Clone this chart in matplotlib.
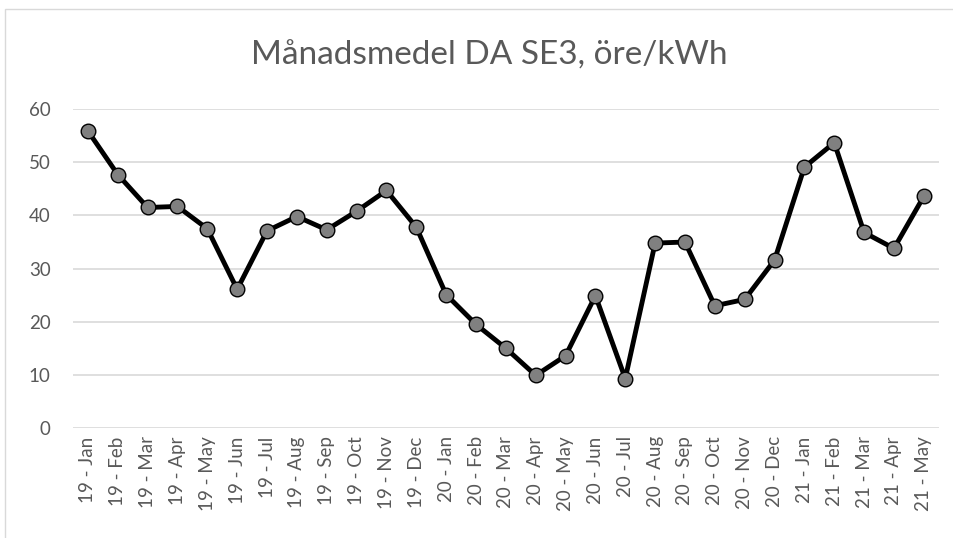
import matplotlib.pyplot as plt
from matplotlib.patches import Rectangle

months = ["19 - Jan", "19 - Feb", "19 - Mar", "19 - Apr", "19 - May", "19 - Jun",
          "19 - Jul", "19 - Aug", "19 - Sep", "19 - Oct", "19 - Nov", "19 - Dec",
          "20 - Jan", "20 - Feb", "20 - Mar", "20 - Apr", "20 - May", "20 - Jun",
          "20 - Jul", "20 - Aug", "20 - Sep", "20 - Oct", "20 - Nov", "20 - Dec",
          "21 - Jan", "21 - Feb", "21 - Mar", "21 - Apr", "21 - May"]
prices = [55.9, 47.7, 41.5, 41.7, 37.5, 26.1,
          37.1, 39.8, 37.3, 40.8, 44.7, 37.8,
          25.1, 19.5, 15.0, 9.9, 13.6, 24.9,
          9.3, 34.8, 35.0, 23.0, 24.2, 31.6,
          49.1, 53.7, 36.8, 33.8, 43.6]
yticks = [0, 10, 20, 30, 40, 50, 60]

plt.rcParams["font.family"] = ["Lato", "DejaVu Sans"]
text_col = "#595959"

fig = plt.figure(figsize=(9.54, 5.38), dpi=100)
ax = fig.add_axes([0.0765, 0.2045, 0.9075, 0.5925])

x = list(range(len(months)))
ax.plot(x, prices, color="black", lw=3.5, marker="o", markersize=10.5,
        markerfacecolor="#808080", markeredgecolor="black", markeredgewidth=1,
        zorder=3)

ax.set_xlim(-0.5, len(months) - 0.5)
ax.set_ylim(0, 60)
ax.set_yticks(yticks)
ax.set_xticks(x)
ax.set_xticklabels(months, rotation=90, fontsize=13.5, color=text_col)
ax.tick_params(axis="y", labelsize=13.5, labelcolor=text_col, length=0, pad=16)
ax.tick_params(axis="x", length=0, pad=6)
ax.grid(axis="y", color="#d9d9d9", lw=1.2)
ax.set_axisbelow(True)
for s in ax.spines.values():
    s.set_visible(False)

fig.text(0.513, 0.897, "Månadsmedel DA SE3, öre/kWh", ha="center", va="center",
         fontsize=24, color=text_col)

fig.patches.append(Rectangle((0.005, -0.01), 1.1, 0.993, transform=fig.transFigure,
                             fill=False, edgecolor="#d9d9d9", lw=1))

fig.savefig("out.png", dpi=100)
plt.close(fig)
